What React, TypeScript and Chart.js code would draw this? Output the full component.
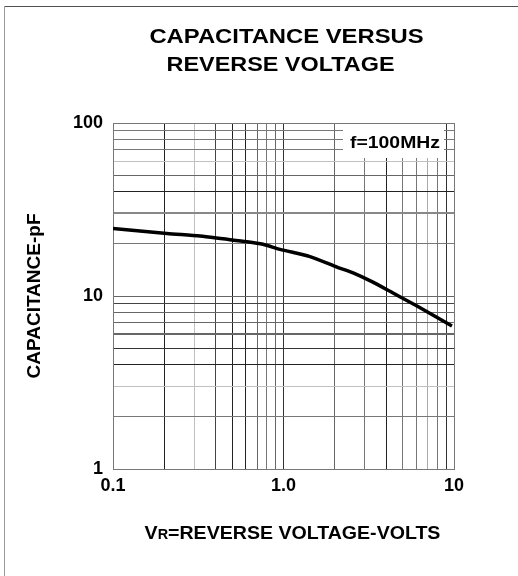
import { useEffect, useRef } from 'react';
import { Chart, registerables } from 'chart.js';

Chart.register(...registerables);

// ---- data ----
const voltage = [0.1, 0.207, 0.324, 0.442, 0.611, 0.758, 0.953, 1.43, 2.09, 2.56, 3.3, 4.39, 6.07, 9.73];
const capacitance = [24.6, 23.0, 22.2, 21.4, 20.6, 19.9, 18.6, 16.9, 14.6, 13.6, 12.1, 10.4, 8.75, 6.71];

const xGridValues = [0.1, 0.2, 0.3, 0.4, 0.5, 0.6, 0.7, 0.8, 0.9, 1, 2, 3, 4, 5, 6, 7, 8, 9, 10];
const yGridValues = [1, 2, 3, 4, 5, 6, 7, 8, 9, 10, 20, 30, 40, 50, 60, 70, 80, 90, 100];

const xLabelValues = [0.1, 1, 10];
const xTickLabels = ['0.1', '1.0', '10'];
const yLabelValues = [1, 10, 100];
const yTickLabels = ['1', '10', '100'];

const titleLines = ['CAPACITANCE VERSUS', 'REVERSE VOLTAGE'];
const yAxisTitle = 'CAPACITANCE-pF';
const xAxisTitleParts = ['V', 'R', '=REVERSE VOLTAGE-VOLTS'];
const noteText = 'f=100MHz';

// ---- styles ----
const FAMILY = '"Liberation Sans", Arial, sans-serif';
const xGridTone: Record<string, string> = {
  '0.1': '#777', '0.2': '#222', '0.3': '#c0c0c0', '0.4': '#444', '0.5': '#222', '0.6': '#222',
  '0.7': '#666', '0.8': '#777', '0.9': '#666', '1': '#333', '2': '#666', '3': '#777', '4': '#222',
  '5': '#777', '6': '#777', '7': '#aaa', '8': '#777', '9': '#333', '10': '#777',
};
const yGridTone: Record<string, string> = {
  '1': '#777', '2': '#777', '3': '#c0c0c0', '4': '#222', '5': '#333', '6': '#666', '7': '#666',
  '8': '#666', '9': '#444', '10': '#666', '20': '#777', '30': '#888', '40': '#222', '50': '#666',
  '60': '#c0c0c0', '70': '#777', '80': '#777', '90': '#777', '100': '#777',
};
const yGridWidth: Record<string, number> = { '6': 2, '30': 2 };

function stretchText(ctx: CanvasRenderingContext2D, text: string, cx: number, cy: number, font: string, sx: number) {
  ctx.save();
  ctx.translate(cx, cy);
  ctx.scale(sx, 1);
  ctx.font = font;
  ctx.textAlign = 'center';
  ctx.textBaseline = 'middle';
  ctx.fillStyle = '#000';
  ctx.fillText(text, 0, 0);
  ctx.restore();
}

const decorPlugin = {
  id: 'decor',
  beforeDraw(chart: any) {
    const ctx = chart.ctx as CanvasRenderingContext2D;
    ctx.save();
    ctx.fillStyle = '#fff';
    ctx.fillRect(0, 0, chart.width, chart.height);
    ctx.restore();
  },
  afterDraw(chart: any) {
    const ctx = chart.ctx as CanvasRenderingContext2D;
    const a = chart.chartArea;
    ctx.save();
    // frame lines
    ctx.fillStyle = '#505050';
    ctx.fillRect(4, 6, chart.width - 4, 1);
    ctx.fillStyle = '#9a9a9a';
    ctx.fillRect(4, 6, 1, chart.height - 6);

    // title
    const cx = (a.left + a.right) / 2;
    stretchText(ctx, titleLines[0], cx + 3, 37, `bold 20px ${FAMILY}`, 1.19);
    stretchText(ctx, titleLines[1], cx - 3, 65, `bold 20px ${FAMILY}`, 1.17);

    // note box
    ctx.fillStyle = '#fff';
    ctx.fillRect(a.right - 111, a.top + 1, 101, 34);
    stretchText(ctx, noteText, a.right - 59, a.top + 20, `bold 17px ${FAMILY}`, 1.14);

    // y axis title
    ctx.save();
    ctx.translate(35, (a.top + a.bottom) / 2);
    ctx.rotate(-Math.PI / 2);
    ctx.font = `bold 19px ${FAMILY}`;
    ctx.textAlign = 'center';
    ctx.textBaseline = 'middle';
    ctx.fillStyle = '#000';
    ctx.fillText(yAxisTitle, 0, 0);
    ctx.restore();

    // x axis title with small R
    const big = `bold 19px ${FAMILY}`;
    const small = `bold 14px ${FAMILY}`;
    ctx.font = big;
    const w0 = ctx.measureText(xAxisTitleParts[0]).width;
    const w2 = ctx.measureText(xAxisTitleParts[2]).width;
    ctx.font = small;
    const w1 = ctx.measureText(xAxisTitleParts[1]).width;
    const total = w0 + w1 + w2;
    const sx = 1.03;
    ctx.save();
    ctx.translate(cx + 9, a.bottom + 70);
    ctx.scale(sx, 1);
    ctx.fillStyle = '#000';
    ctx.textAlign = 'left';
    ctx.textBaseline = 'alphabetic';
    let x = -total / 2;
    ctx.font = big;
    ctx.fillText(xAxisTitleParts[0], x, 0);
    x += w0;
    ctx.font = small;
    ctx.fillText(xAxisTitleParts[1], x, 0);
    x += w1;
    ctx.font = big;
    ctx.fillText(xAxisTitleParts[2], x, 0);
    ctx.restore();

    ctx.restore();
  },
};

export default function App() {
  const ref = useRef<HTMLCanvasElement | null>(null);

  useEffect(() => {
    if (!ref.current) return;
    const chart = new Chart(ref.current, {
      type: 'line',
      data: {
        datasets: [
          {
            data: voltage.map((v, i) => ({ x: v, y: capacitance[i] })),
            borderColor: '#000',
            borderWidth: 3.5,
            pointRadius: 0,
            tension: 0.25,
            fill: false,
          },
        ],
      },
      options: {
        animation: false,
        responsive: false,
        devicePixelRatio: 1,
        layout: { padding: { top: 123, right: 64, left: 0, bottom: 0 } },
        plugins: { legend: { display: false }, tooltip: { enabled: false }, title: { display: false } },
        scales: {
          x: {
            type: 'logarithmic',
            min: 0.1,
            max: 10,
            afterFit: (s: any) => { s.height = 107; },
            afterBuildTicks: (s: any) => { s.ticks = xGridValues.map((v) => ({ value: v })); },
            border: { display: true, color: '#777', width: 1 },
            grid: {
              drawTicks: false,
              color: (c: any) => xGridTone[String(c.tick?.value)] || '#777',
              lineWidth: 1,
            },
            ticks: {
              autoSkip: false,
              maxRotation: 0,
              padding: 6,
              color: '#000',
              font: { family: FAMILY, size: 18, weight: 'bold' },
              callback: (v: any) => {
                const i = xLabelValues.findIndex((q) => Math.abs(q - Number(v)) < 1e-9);
                return i >= 0 ? xTickLabels[i] : '';
              },
            },
          },
          y: {
            type: 'logarithmic',
            min: 1,
            max: 100,
            afterFit: (s: any) => { s.width = 113; },
            afterBuildTicks: (s: any) => { s.ticks = yGridValues.map((v) => ({ value: v })); },
            border: { display: true, color: '#777', width: 1 },
            grid: {
              drawTicks: false,
              color: (c: any) => yGridTone[String(c.tick?.value)] || '#777',
              lineWidth: (c: any) => yGridWidth[String(c.tick?.value)] || 1,
            },
            ticks: {
              autoSkip: false,
              padding: 10,
              color: '#000',
              font: { family: FAMILY, size: 18, weight: 'bold' },
              callback: (v: any) => {
                const i = yLabelValues.findIndex((q) => Math.abs(q - Number(v)) < 1e-9);
                return i >= 0 ? yTickLabels[i] : '';
              },
            },
          },
        },
      },
      plugins: [decorPlugin],
    } as any);
    return () => chart.destroy();
  }, []);

  return (
    <div style={{ position: 'absolute', left: 0, top: 0, width: 518, height: 576 }}>
      <canvas ref={ref} width={518} height={576} style={{ display: 'block' }} />
    </div>
  );
}
